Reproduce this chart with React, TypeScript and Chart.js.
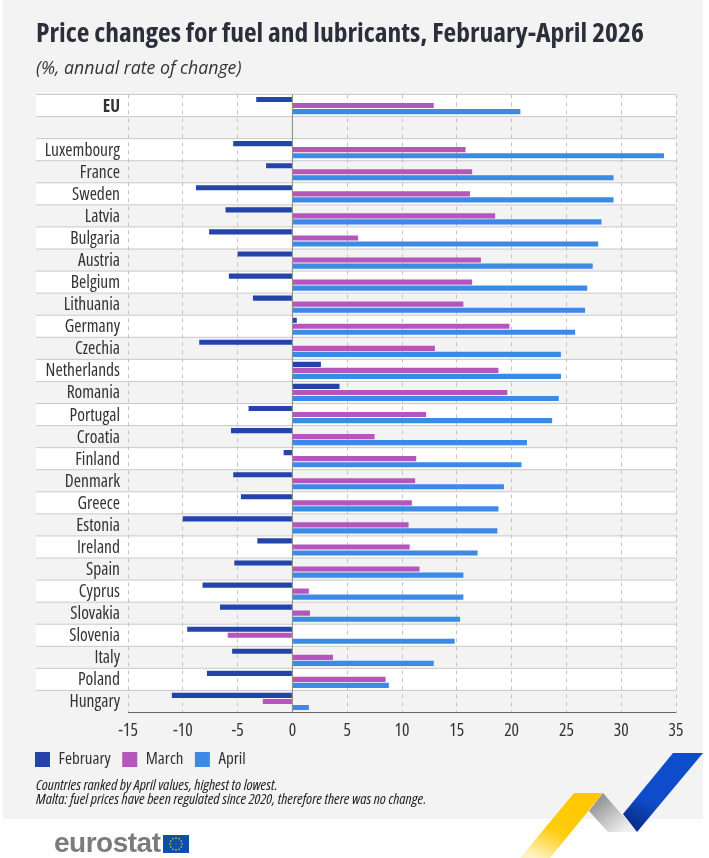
import React, { useEffect, useRef } from "react";
import Chart from "chart.js/auto";

const countries = ["EU", "", "Luxembourg", "France", "Sweden", "Latvia", "Bulgaria", "Austria", "Belgium", "Lithuania", "Germany", "Czechia", "Netherlands", "Romania", "Portugal", "Croatia", "Finland", "Denmark", "Greece", "Estonia", "Ireland", "Spain", "Cyprus", "Slovakia", "Slovenia", "Italy", "Poland", "Hungary"];
const february = [-3.3, null, -5.4, -2.4, -8.8, -6.1, -7.6, -5.0, -5.8, -3.6, 0.4, -8.5, 2.6, 4.3, -4.0, -5.6, -0.8, -5.4, -4.7, -10.0, -3.2, -5.3, -8.2, -6.6, -9.6, -5.5, -7.8, -11.0];
const march = [12.9, null, 15.8, 16.4, 16.2, 18.5, 6.0, 17.2, 16.4, 15.6, 19.8, 13.0, 18.8, 19.6, 12.2, 7.5, 11.3, 11.2, 10.9, 10.6, 10.7, 11.6, 1.5, 1.6, -5.9, 3.7, 8.5, -2.7];
const april = [20.8, null, 33.9, 29.3, 29.3, 28.2, 27.9, 27.4, 26.9, 26.7, 25.8, 24.5, 24.5, 24.3, 23.7, 21.4, 20.9, 19.3, 18.8, 18.7, 16.9, 15.6, 15.6, 15.3, 14.8, 12.9, 8.8, 1.5];

const OPEN = '"Open Sans", sans-serif';
const BAND_LEFT = 36;

// row bands + separators sit behind everything, they run past the plot to the labels
const rowBands = {
  id: "rowBands",
  beforeDraw(chart: any) {
    const { ctx, chartArea, scales } = chart;
    const y = scales.y;
    const rowH = y.getPixelForValue(1) - y.getPixelForValue(0);
    ctx.save();
    countries.forEach((_, i) => {
      const top = y.getPixelForValue(i) - rowH / 2;
      if (i % 2 === 0) {
        ctx.fillStyle = "#ffffff";
        ctx.fillRect(BAND_LEFT, top, chartArea.right - BAND_LEFT, rowH);
      }
      ctx.fillStyle = "#c9c9c9";
      ctx.fillRect(BAND_LEFT, top - 0.5, chartArea.right - BAND_LEFT, 1);
    });
    ctx.restore();
  },
  beforeDatasetsDraw(chart: any) {
    const { ctx, chartArea, scales } = chart;
    const x0 = scales.x.getPixelForValue(0);
    ctx.save();
    ctx.fillStyle = "#8a8a8a";
    ctx.fillRect(x0 - 0.5, chartArea.top, 1, chartArea.bottom - chartArea.top);
    ctx.restore();
  },
  afterDatasetsDraw(chart: any) {
    const { ctx, chartArea } = chart;
    ctx.save();
    ctx.fillStyle = "#666";
    ctx.fillRect(chartArea.left, chartArea.bottom - 0.5, chartArea.right - chartArea.left, 1);
    ctx.restore();
  },
};

const EuFlag = () => {
  const stars = Array.from({ length: 12 }, (_, i) => {
    const a = (i / 12) * Math.PI * 2;
    return <circle key={i} cx={13 + Math.cos(a) * 6} cy={9 + Math.sin(a) * 6} r={0.8} fill="#f5d90a" />;
  });
  return (
    <svg width="26" height="18" style={{ position: "absolute", left: 163, top: 835 }}>
      <rect width="26" height="18" fill="#0e4fa8" />
      {stars}
    </svg>
  );
};

const Chevron = () => (
  <svg width="709" height="858" style={{ position: "absolute", left: 0, top: 0, pointerEvents: "none" }}>
    <defs>
      <linearGradient id="blueFill" x1="0.7" y1="0.3" x2="0.3" y2="1">
        <stop offset="0" stopColor="#0f4ccb" />
        <stop offset="0.55" stopColor="#0f4ccb" />
        <stop offset="1" stopColor="#0a2f8c" />
      </linearGradient>
      <linearGradient id="greyFill" x1="0.1" y1="0.2" x2="0.8" y2="0.9">
        <stop offset="0" stopColor="#8f9093" />
        <stop offset="1" stopColor="#f0f0f0" />
      </linearGradient>
      <linearGradient id="yellowFill" x1="0.7" y1="0.2" x2="0.2" y2="1">
        <stop offset="0" stopColor="#ffc800" />
        <stop offset="0.5" stopColor="#ffcc10" />
        <stop offset="1" stopColor="#fff3c4" />
      </linearGradient>
    </defs>
    <polygon points="603,793 589,811 608,832 637,832" fill="url(#greyFill)" />
    <polygon points="673,753 703,753 637,832 623,814" fill="url(#blueFill)" />
    <polygon points="574,793 603,793 550,858 520,858" fill="url(#yellowFill)" />
  </svg>
);

const abs = (left: number, top: number): React.CSSProperties => ({ position: "absolute", left, top, whiteSpace: "nowrap" });

export default function App() {
  const canvasRef = useRef<HTMLCanvasElement | null>(null);

  useEffect(() => {
    document.body.style.margin = "0";
    if (!canvasRef.current) return;

    const chart = new Chart(canvasRef.current, {
      type: "bar",
      data: {
        labels: countries,
        datasets: [
          { label: "February", data: february, backgroundColor: "#2443ab" },
          { label: "March", data: march, backgroundColor: "#b556bd" },
          { label: "April", data: april, backgroundColor: "#3a8ae6" },
        ],
      },
      options: {
        indexAxis: "y",
        animation: false,
        responsive: false,
        datasets: { bar: { categoryPercentage: 0.82, barPercentage: 0.85 } },
        layout: { padding: { left: 23.5, right: 33, top: 94.5, bottom: 80 } },
        plugins: {
          tooltip: { enabled: false },
          legend: {
            position: "bottom",
            align: "start",
            labels: { boxWidth: 15, boxHeight: 15, padding: 11.5, color: "#333", font: { family: OPEN, size: 17, weight: "condensed" } },
          },
        },
        scales: {
          x: {
            min: -15,
            max: 35,
            afterFit: (scale: any) => {
              scale.height = 27;
            },
            ticks: { stepSize: 5, color: "#333", padding: 8, font: { family: OPEN, size: 17.5, weight: "condensed" } },
            grid: { color: "#c4c4c4", drawTicks: false },
            border: { dash: [4, 4], display: false },
          },
          y: {
            afterFit: (scale: any) => {
              scale.width = 104.5;
            },
            ticks: {
              autoSkip: false,
              padding: 8,
              labelOffset: 1,
              color: "#333",
              // chart.js passes weight straight into the font string, so the stretch keyword goes there
              font: (ctx: any) => ({ family: OPEN, size: 17.5, weight: ctx.index === 0 ? "bold condensed" : "condensed" }),
            },
            grid: { display: false, drawTicks: false },
            border: { display: false },
          },
        },
      },
      plugins: [rowBands],
    } as any);

    return () => chart.destroy();
  }, []);

  return (
    <div style={{ position: "relative", width: 709, height: 858, overflow: "hidden", background: "#fff" }}>
      <div style={{ position: "absolute", left: 3, top: 0, width: 700, height: 819, background: "#f3f3f3" }} />
      <canvas ref={canvasRef} width={709} height={858} style={{ position: "absolute", left: 0, top: 0 }} />
      <div style={{ ...abs(36, 13), font: `bold condensed 27.5px ${OPEN}`, color: "#2b2f3a" }}>Price changes for fuel and lubricants, February-April 2026</div>
      <div style={{ ...abs(36, 55), font: `italic 17.7px ${OPEN}`, color: "#333" }}>(%, annual rate of change)</div>
      <div style={{ ...abs(36, 777), font: `italic condensed 15.1px/14px ${OPEN}`, color: "#222" }}>
        Countries ranked by April values, highest to lowest.
        <br />
        Malta: fuel prices have been regulated since 2020, therefore there was no change.
      </div>
      <Chevron />
      <div style={{ ...abs(54, 827), font: 'bold 28px "Liberation Sans", sans-serif', color: "#7b7b7b", letterSpacing: -0.5 }}>eurostat</div>
      <EuFlag />
    </div>
  );
}
